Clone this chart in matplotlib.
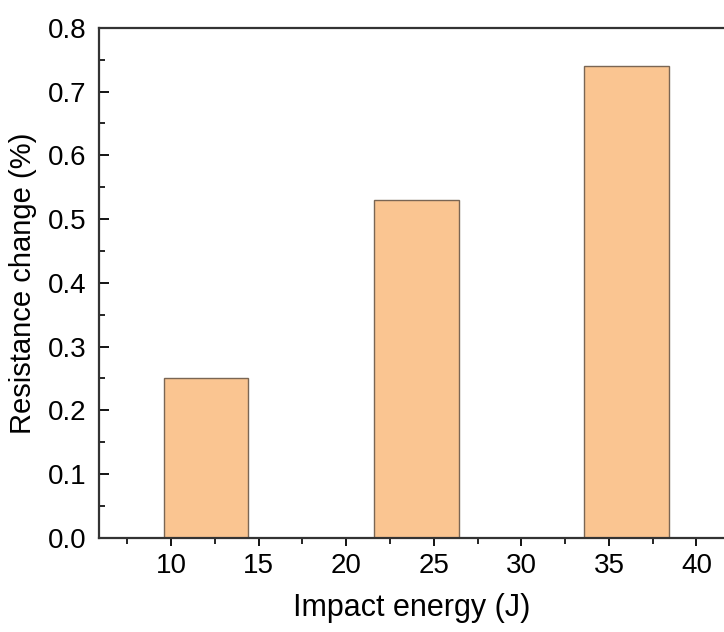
import matplotlib.pyplot as plt
from matplotlib.ticker import MultipleLocator

plt.rcParams['font.family'] = ['Liberation Sans', 'DejaVu Sans']

# Data
energies = [12, 24, 36]
resistance_change = [0.25, 0.53, 0.74]

fig = plt.figure(figsize=(7.24, 6.32), dpi=100)
ax = fig.add_axes([0.137, 0.149, 0.863, 0.807])

ax.bar(energies, resistance_change, width=4.83, color='#FAC591',
       edgecolor='#7a6654', linewidth=1.0)

ax.set_xlim(5.9, 41.57)
ax.set_ylim(0, 0.8)
ax.xaxis.set_major_locator(MultipleLocator(5))
ax.xaxis.set_minor_locator(MultipleLocator(2.5))
ax.yaxis.set_major_locator(MultipleLocator(0.1))
ax.yaxis.set_minor_locator(MultipleLocator(0.05))
ax.set_xticks([10, 15, 20, 25, 30, 35, 40])

ax.tick_params(axis='x', which='major', direction='out', length=6, width=1.3, labelsize=20, pad=5)
ax.tick_params(axis='x', which='minor', direction='out', length=4, width=1.2)
ax.tick_params(axis='y', which='major', direction='in', length=7, width=1.3, labelsize=20, pad=9)
ax.tick_params(axis='y', which='minor', direction='in', length=4, width=1.2)

for side in ['left', 'bottom', 'top']:
    ax.spines[side].set_linewidth(1.6)
    ax.spines[side].set_color('#333333')
ax.spines['right'].set_visible(False)

ax.set_xlabel('Impact energy (J)', fontsize=22, labelpad=10)
ax.set_ylabel('Resistance change (%)', fontsize=21, labelpad=8)

fig.savefig('out.png', dpi=100)
